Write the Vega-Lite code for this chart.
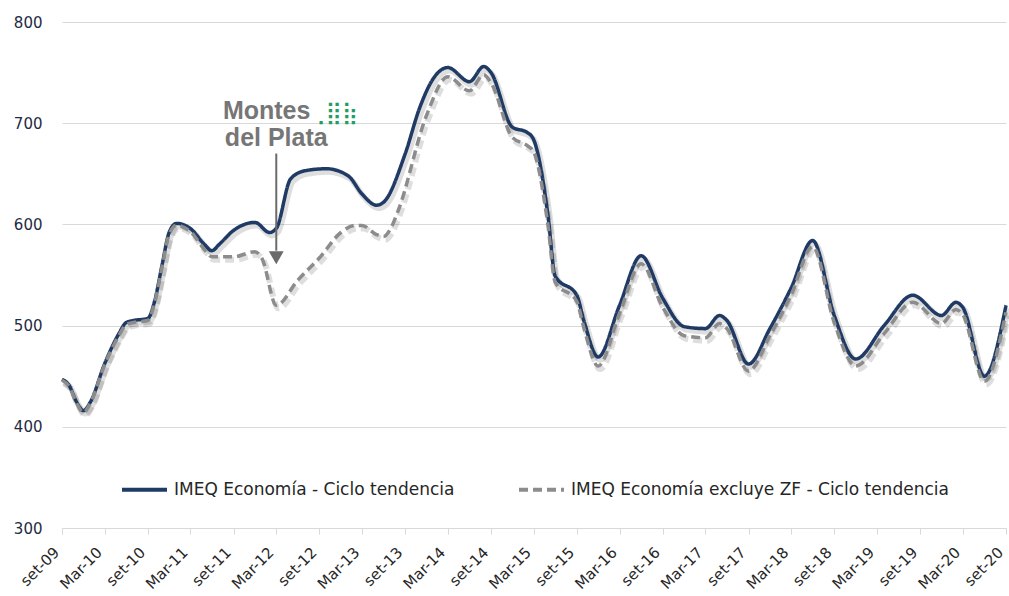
{
  "$schema": "https://vega.github.io/schema/vega-lite/v6.json",
  "width": 944,
  "height": 506,
  "autosize": {"type": "none"},
  "padding": {"left": 62, "top": 22, "right": 3, "bottom": 68},
  "background": "white",
  "config": {"view": {"stroke": null}, "font": "DejaVu Sans"},
  "datasets": {
    "series": [
      {"date": "2009/09/01", "serie": "IMEQ Economía - Ciclo tendencia", "value": 447},
      {"date": "2009/10/01", "serie": "IMEQ Economía - Ciclo tendencia", "value": 441},
      {"date": "2009/11/01", "serie": "IMEQ Economía - Ciclo tendencia", "value": 425},
      {"date": "2009/12/01", "serie": "IMEQ Economía - Ciclo tendencia", "value": 416},
      {"date": "2010/01/01", "serie": "IMEQ Economía - Ciclo tendencia", "value": 425},
      {"date": "2010/03/01", "serie": "IMEQ Economía - Ciclo tendencia", "value": 462},
      {"date": "2010/05/01", "serie": "IMEQ Economía - Ciclo tendencia", "value": 492},
      {"date": "2010/06/01", "serie": "IMEQ Economía - Ciclo tendencia", "value": 503},
      {"date": "2010/07/01", "serie": "IMEQ Economía - Ciclo tendencia", "value": 505},
      {"date": "2010/09/01", "serie": "IMEQ Economía - Ciclo tendencia", "value": 507},
      {"date": "2010/10/01", "serie": "IMEQ Economía - Ciclo tendencia", "value": 525},
      {"date": "2010/11/01", "serie": "IMEQ Economía - Ciclo tendencia", "value": 560},
      {"date": "2010/12/01", "serie": "IMEQ Economía - Ciclo tendencia", "value": 592},
      {"date": "2011/01/01", "serie": "IMEQ Economía - Ciclo tendencia", "value": 601},
      {"date": "2011/03/01", "serie": "IMEQ Economía - Ciclo tendencia", "value": 596},
      {"date": "2011/05/01", "serie": "IMEQ Economía - Ciclo tendencia", "value": 580},
      {"date": "2011/06/01", "serie": "IMEQ Economía - Ciclo tendencia", "value": 574},
      {"date": "2011/07/01", "serie": "IMEQ Economía - Ciclo tendencia", "value": 580},
      {"date": "2011/09/01", "serie": "IMEQ Economía - Ciclo tendencia", "value": 594},
      {"date": "2011/12/01", "serie": "IMEQ Economía - Ciclo tendencia", "value": 602},
      {"date": "2012/02/01", "serie": "IMEQ Economía - Ciclo tendencia", "value": 592},
      {"date": "2012/03/01", "serie": "IMEQ Economía - Ciclo tendencia", "value": 596},
      {"date": "2012/05/01", "serie": "IMEQ Economía - Ciclo tendencia", "value": 645},
      {"date": "2012/07/01", "serie": "IMEQ Economía - Ciclo tendencia", "value": 653},
      {"date": "2012/10/01", "serie": "IMEQ Economía - Ciclo tendencia", "value": 655},
      {"date": "2013/01/01", "serie": "IMEQ Economía - Ciclo tendencia", "value": 648},
      {"date": "2013/03/01", "serie": "IMEQ Economía - Ciclo tendencia", "value": 630},
      {"date": "2013/05/01", "serie": "IMEQ Economía - Ciclo tendencia", "value": 619},
      {"date": "2013/06/01", "serie": "IMEQ Economía - Ciclo tendencia", "value": 622},
      {"date": "2013/09/01", "serie": "IMEQ Economía - Ciclo tendencia", "value": 670},
      {"date": "2013/11/01", "serie": "IMEQ Economía - Ciclo tendencia", "value": 715},
      {"date": "2014/01/01", "serie": "IMEQ Economía - Ciclo tendencia", "value": 745},
      {"date": "2014/03/01", "serie": "IMEQ Economía - Ciclo tendencia", "value": 755},
      {"date": "2014/06/01", "serie": "IMEQ Economía - Ciclo tendencia", "value": 741},
      {"date": "2014/08/01", "serie": "IMEQ Economía - Ciclo tendencia", "value": 756},
      {"date": "2014/09/01", "serie": "IMEQ Economía - Ciclo tendencia", "value": 750},
      {"date": "2014/12/01", "serie": "IMEQ Economía - Ciclo tendencia", "value": 696},
      {"date": "2015/02/01", "serie": "IMEQ Economía - Ciclo tendencia", "value": 691},
      {"date": "2015/03/01", "serie": "IMEQ Economía - Ciclo tendencia", "value": 684},
      {"date": "2015/05/01", "serie": "IMEQ Economía - Ciclo tendencia", "value": 610},
      {"date": "2015/06/01", "serie": "IMEQ Economía - Ciclo tendencia", "value": 549},
      {"date": "2015/09/01", "serie": "IMEQ Economía - Ciclo tendencia", "value": 530},
      {"date": "2015/10/01", "serie": "IMEQ Economía - Ciclo tendencia", "value": 505},
      {"date": "2015/12/01", "serie": "IMEQ Economía - Ciclo tendencia", "value": 469},
      {"date": "2016/03/01", "serie": "IMEQ Economía - Ciclo tendencia", "value": 520},
      {"date": "2016/06/01", "serie": "IMEQ Economía - Ciclo tendencia", "value": 569},
      {"date": "2016/09/01", "serie": "IMEQ Economía - Ciclo tendencia", "value": 527},
      {"date": "2016/12/01", "serie": "IMEQ Economía - Ciclo tendencia", "value": 499},
      {"date": "2017/03/01", "serie": "IMEQ Economía - Ciclo tendencia", "value": 497},
      {"date": "2017/05/01", "serie": "IMEQ Economía - Ciclo tendencia", "value": 510},
      {"date": "2017/06/01", "serie": "IMEQ Economía - Ciclo tendencia", "value": 505},
      {"date": "2017/09/01", "serie": "IMEQ Economía - Ciclo tendencia", "value": 462},
      {"date": "2017/12/01", "serie": "IMEQ Economía - Ciclo tendencia", "value": 497},
      {"date": "2018/03/01", "serie": "IMEQ Economía - Ciclo tendencia", "value": 537},
      {"date": "2018/06/01", "serie": "IMEQ Economía - Ciclo tendencia", "value": 584},
      {"date": "2018/09/01", "serie": "IMEQ Economía - Ciclo tendencia", "value": 510},
      {"date": "2018/12/01", "serie": "IMEQ Economía - Ciclo tendencia", "value": 467},
      {"date": "2019/04/01", "serie": "IMEQ Economía - Ciclo tendencia", "value": 500},
      {"date": "2019/08/01", "serie": "IMEQ Economía - Ciclo tendencia", "value": 530},
      {"date": "2019/12/01", "serie": "IMEQ Economía - Ciclo tendencia", "value": 510},
      {"date": "2020/02/01", "serie": "IMEQ Economía - Ciclo tendencia", "value": 523},
      {"date": "2020/03/01", "serie": "IMEQ Economía - Ciclo tendencia", "value": 518},
      {"date": "2020/06/01", "serie": "IMEQ Economía - Ciclo tendencia", "value": 450},
      {"date": "2020/09/01", "serie": "IMEQ Economía - Ciclo tendencia", "value": 520},
      {"date": "2009/09/01", "serie": "IMEQ Economía excluye ZF - Ciclo tendencia", "value": 446},
      {"date": "2009/10/01", "serie": "IMEQ Economía excluye ZF - Ciclo tendencia", "value": 440},
      {"date": "2009/11/01", "serie": "IMEQ Economía excluye ZF - Ciclo tendencia", "value": 424},
      {"date": "2009/12/01", "serie": "IMEQ Economía excluye ZF - Ciclo tendencia", "value": 414},
      {"date": "2010/01/01", "serie": "IMEQ Economía excluye ZF - Ciclo tendencia", "value": 424},
      {"date": "2010/03/01", "serie": "IMEQ Economía excluye ZF - Ciclo tendencia", "value": 461},
      {"date": "2010/05/01", "serie": "IMEQ Economía excluye ZF - Ciclo tendencia", "value": 490},
      {"date": "2010/06/01", "serie": "IMEQ Economía excluye ZF - Ciclo tendencia", "value": 501},
      {"date": "2010/07/01", "serie": "IMEQ Economía excluye ZF - Ciclo tendencia", "value": 503},
      {"date": "2010/09/01", "serie": "IMEQ Economía excluye ZF - Ciclo tendencia", "value": 505},
      {"date": "2010/10/01", "serie": "IMEQ Economía excluye ZF - Ciclo tendencia", "value": 523},
      {"date": "2010/11/01", "serie": "IMEQ Economía excluye ZF - Ciclo tendencia", "value": 558},
      {"date": "2010/12/01", "serie": "IMEQ Economía excluye ZF - Ciclo tendencia", "value": 590},
      {"date": "2011/01/01", "serie": "IMEQ Economía excluye ZF - Ciclo tendencia", "value": 599},
      {"date": "2011/03/01", "serie": "IMEQ Economía excluye ZF - Ciclo tendencia", "value": 593},
      {"date": "2011/05/01", "serie": "IMEQ Economía excluye ZF - Ciclo tendencia", "value": 575},
      {"date": "2011/06/01", "serie": "IMEQ Economía excluye ZF - Ciclo tendencia", "value": 568},
      {"date": "2011/09/01", "serie": "IMEQ Economía excluye ZF - Ciclo tendencia", "value": 568},
      {"date": "2011/12/01", "serie": "IMEQ Economía excluye ZF - Ciclo tendencia", "value": 573},
      {"date": "2012/01/01", "serie": "IMEQ Economía excluye ZF - Ciclo tendencia", "value": 566},
      {"date": "2012/03/01", "serie": "IMEQ Economía excluye ZF - Ciclo tendencia", "value": 520},
      {"date": "2012/06/01", "serie": "IMEQ Economía excluye ZF - Ciclo tendencia", "value": 545},
      {"date": "2012/09/01", "serie": "IMEQ Economía excluye ZF - Ciclo tendencia", "value": 567},
      {"date": "2012/12/01", "serie": "IMEQ Economía excluye ZF - Ciclo tendencia", "value": 592},
      {"date": "2013/02/01", "serie": "IMEQ Economía excluye ZF - Ciclo tendencia", "value": 599},
      {"date": "2013/03/01", "serie": "IMEQ Economía excluye ZF - Ciclo tendencia", "value": 599},
      {"date": "2013/05/01", "serie": "IMEQ Economía excluye ZF - Ciclo tendencia", "value": 590},
      {"date": "2013/06/01", "serie": "IMEQ Economía excluye ZF - Ciclo tendencia", "value": 588},
      {"date": "2013/07/01", "serie": "IMEQ Economía excluye ZF - Ciclo tendencia", "value": 596},
      {"date": "2013/08/01", "serie": "IMEQ Economía excluye ZF - Ciclo tendencia", "value": 613},
      {"date": "2013/12/01", "serie": "IMEQ Economía excluye ZF - Ciclo tendencia", "value": 708},
      {"date": "2014/03/01", "serie": "IMEQ Economía excluye ZF - Ciclo tendencia", "value": 746},
      {"date": "2014/06/01", "serie": "IMEQ Economía excluye ZF - Ciclo tendencia", "value": 732},
      {"date": "2014/08/01", "serie": "IMEQ Economía excluye ZF - Ciclo tendencia", "value": 748},
      {"date": "2014/09/01", "serie": "IMEQ Economía excluye ZF - Ciclo tendencia", "value": 740},
      {"date": "2014/12/01", "serie": "IMEQ Economía excluye ZF - Ciclo tendencia", "value": 686},
      {"date": "2015/02/01", "serie": "IMEQ Economía excluye ZF - Ciclo tendencia", "value": 678},
      {"date": "2015/03/01", "serie": "IMEQ Economía excluye ZF - Ciclo tendencia", "value": 672},
      {"date": "2015/05/01", "serie": "IMEQ Economía excluye ZF - Ciclo tendencia", "value": 600},
      {"date": "2015/06/01", "serie": "IMEQ Economía excluye ZF - Ciclo tendencia", "value": 543},
      {"date": "2015/09/01", "serie": "IMEQ Economía excluye ZF - Ciclo tendencia", "value": 524},
      {"date": "2015/10/01", "serie": "IMEQ Economía excluye ZF - Ciclo tendencia", "value": 498},
      {"date": "2015/12/01", "serie": "IMEQ Economía excluye ZF - Ciclo tendencia", "value": 460},
      {"date": "2016/03/01", "serie": "IMEQ Economía excluye ZF - Ciclo tendencia", "value": 512},
      {"date": "2016/06/01", "serie": "IMEQ Economía excluye ZF - Ciclo tendencia", "value": 561},
      {"date": "2016/09/01", "serie": "IMEQ Economía excluye ZF - Ciclo tendencia", "value": 518},
      {"date": "2016/12/01", "serie": "IMEQ Economía excluye ZF - Ciclo tendencia", "value": 490},
      {"date": "2017/03/01", "serie": "IMEQ Economía excluye ZF - Ciclo tendencia", "value": 488},
      {"date": "2017/05/01", "serie": "IMEQ Economía excluye ZF - Ciclo tendencia", "value": 502},
      {"date": "2017/06/01", "serie": "IMEQ Economía excluye ZF - Ciclo tendencia", "value": 497},
      {"date": "2017/09/01", "serie": "IMEQ Economía excluye ZF - Ciclo tendencia", "value": 455},
      {"date": "2017/12/01", "serie": "IMEQ Economía excluye ZF - Ciclo tendencia", "value": 490},
      {"date": "2018/03/01", "serie": "IMEQ Economía excluye ZF - Ciclo tendencia", "value": 530},
      {"date": "2018/06/01", "serie": "IMEQ Economía excluye ZF - Ciclo tendencia", "value": 578},
      {"date": "2018/09/01", "serie": "IMEQ Economía excluye ZF - Ciclo tendencia", "value": 503},
      {"date": "2018/12/01", "serie": "IMEQ Economía excluye ZF - Ciclo tendencia", "value": 460},
      {"date": "2019/04/01", "serie": "IMEQ Economía excluye ZF - Ciclo tendencia", "value": 492},
      {"date": "2019/08/01", "serie": "IMEQ Economía excluye ZF - Ciclo tendencia", "value": 523},
      {"date": "2019/12/01", "serie": "IMEQ Economía excluye ZF - Ciclo tendencia", "value": 502},
      {"date": "2020/02/01", "serie": "IMEQ Economía excluye ZF - Ciclo tendencia", "value": 516},
      {"date": "2020/03/01", "serie": "IMEQ Economía excluye ZF - Ciclo tendencia", "value": 511},
      {"date": "2020/06/01", "serie": "IMEQ Economía excluye ZF - Ciclo tendencia", "value": 445},
      {"date": "2020/09/01", "serie": "IMEQ Economía excluye ZF - Ciclo tendencia", "value": 513}
    ],
    "note": [{"label": "Montes del Plata"}]
  },
  "layer": [
    {
      "data": {"name": "series"},
      "transform": [{"filter": "datum.serie == 'IMEQ Economía - Ciclo tendencia'"}],
      "mark": {"type": "line", "interpolate": "monotone", "strokeWidth": 6, "color": "#000000", "opacity": 0.13, "xOffset": 2, "yOffset": 3},
      "encoding": {
        "x": {"field": "date", "type": "temporal"},
        "y": {"field": "value", "type": "quantitative"}
      }
    },
    {
      "data": {"name": "series"},
      "transform": [{"filter": "datum.serie != 'IMEQ Economía - Ciclo tendencia'"}],
      "mark": {"type": "line", "interpolate": "monotone", "strokeWidth": 6, "color": "#000000", "opacity": 0.13, "xOffset": 2, "yOffset": 3, "strokeDash": [9, 5]},
      "encoding": {
        "x": {"field": "date", "type": "temporal"},
        "y": {"field": "value", "type": "quantitative"}
      }
    },
    {
      "data": {"name": "series"},
      "mark": {"type": "line", "interpolate": "monotone", "strokeWidth": 3.5},
      "encoding": {
        "x": {
          "field": "date",
          "type": "temporal",
          "scale": {"domain": [{"year": 2009, "month": 9, "date": 1}, {"year": 2020, "month": 9, "date": 1}]},
          "axis": {
            "title": null,
            "values": [
              {"year": 2009, "month": 9, "date": 1}, {"year": 2010, "month": 3, "date": 1},
              {"year": 2010, "month": 9, "date": 1}, {"year": 2011, "month": 3, "date": 1},
              {"year": 2011, "month": 9, "date": 1}, {"year": 2012, "month": 3, "date": 1},
              {"year": 2012, "month": 9, "date": 1}, {"year": 2013, "month": 3, "date": 1},
              {"year": 2013, "month": 9, "date": 1}, {"year": 2014, "month": 3, "date": 1},
              {"year": 2014, "month": 9, "date": 1}, {"year": 2015, "month": 3, "date": 1},
              {"year": 2015, "month": 9, "date": 1}, {"year": 2016, "month": 3, "date": 1},
              {"year": 2016, "month": 9, "date": 1}, {"year": 2017, "month": 3, "date": 1},
              {"year": 2017, "month": 9, "date": 1}, {"year": 2018, "month": 3, "date": 1},
              {"year": 2018, "month": 9, "date": 1}, {"year": 2019, "month": 3, "date": 1},
              {"year": 2019, "month": 9, "date": 1}, {"year": 2020, "month": 3, "date": 1},
              {"year": 2020, "month": 9, "date": 1}
            ],
            "labelExpr": "(month(datum.value) == 2 ? 'Mar-' : 'set-') + timeFormat(datum.value, '%y')",
            "labelAngle": -45,
            "labelAlign": "right",
            "labelBaseline": "bottom",
            "labelFontSize": 15,
            "labelColor": "#262626",
            "labelPadding": 21,
            "labelOverlap": false,
            "labelFlush": false,
            "grid": false,
            "tickSize": 6,
            "tickColor": "#d9d9d9",
            "domainColor": "#d9d9d9",
            "domainWidth": 1
          }
        },
        "y": {
          "field": "value",
          "type": "quantitative",
          "scale": {"domain": [300, 800], "nice": false, "zero": false},
          "axis": {
            "title": null,
            "values": [300, 400, 500, 600, 700, 800],
            "grid": true,
            "gridColor": "#d9d9d9",
            "domain": false,
            "ticks": false,
            "labelFontSize": 15,
            "labelColor": "#1f2a44",
            "labelPadding": 20
          }
        },
        "color": {
          "field": "serie",
          "type": "nominal",
          "scale": {"domain": ["IMEQ Economía - Ciclo tendencia", "IMEQ Economía excluye ZF - Ciclo tendencia"], "range": ["#1f3a64", "#8c8c8c"]},
          "legend": {
            "title": null,
            "orient": "none",
            "direction": "horizontal",
            "legendX": 58,
            "legendY": 443,
            "symbolType": "stroke",
            "symbolSize": 2025,
            "symbolStrokeWidth": 4,
            "labelFont": "DejaVu Sans",
            "labelFontSize": 17,
            "labelColor": "#262626",
            "labelOffset": 5,
            "columnPadding": 56,
            "labelLimit": 500
          }
        },
        "strokeDash": {
          "field": "serie",
          "type": "nominal",
          "scale": {"domain": ["IMEQ Economía - Ciclo tendencia", "IMEQ Economía excluye ZF - Ciclo tendencia"], "range": [[1, 0], [9, 5]]},
          "legend": {
            "title": null,
            "orient": "none",
            "direction": "horizontal",
            "legendX": 58,
            "legendY": 443,
            "symbolType": "stroke",
            "symbolSize": 2025,
            "symbolStrokeWidth": 4,
            "labelFont": "DejaVu Sans",
            "labelFontSize": 17,
            "labelColor": "#262626",
            "labelOffset": 5,
            "columnPadding": 56,
            "labelLimit": 500
          }
        }
      }
    },
    {
      "data": {"name": "note"},
      "mark": {"type": "text", "text": "Montes", "font": "Liberation Sans", "fontWeight": "bold", "fontSize": 25, "color": "#767676", "align": "center", "baseline": "middle"},
      "encoding": {"x": {"datum": {"year": 2012, "month": 1, "date": 20}, "type": "temporal"}, "y": {"datum": 712, "type": "quantitative"}}
    },
    {
      "data": {"name": "note"},
      "mark": {"type": "text", "text": "del Plata", "font": "Liberation Sans", "fontWeight": "bold", "fontSize": 25, "color": "#767676", "align": "center", "baseline": "middle"},
      "encoding": {"x": {"datum": {"year": 2012, "month": 3, "date": 1}, "type": "temporal"}, "y": {"datum": 685, "type": "quantitative"}}
    },
    {
      "data": {"name": "note"},
      "mark": {"type": "text", "text": "⢀⣿⣷", "font": "DejaVu Sans", "fontSize": 22, "color": "#1e9e62", "align": "center", "baseline": "middle"},
      "encoding": {"x": {"datum": {"year": 2012, "month": 11, "date": 1}, "type": "temporal"}, "y": {"datum": 710, "type": "quantitative"}}
    },
    {
      "data": {"name": "note"},
      "mark": {"type": "rule", "color": "#6b6b6b", "strokeWidth": 2},
      "encoding": {"x": {"datum": {"year": 2012, "month": 3, "date": 1}, "type": "temporal"}, "y": {"datum": 670, "type": "quantitative"}, "y2": {"datum": 574}}
    },
    {
      "data": {"name": "note"},
      "mark": {"type": "point", "shape": "triangle-down", "filled": true, "size": 220, "color": "#6b6b6b", "opacity": 1},
      "encoding": {"x": {"datum": {"year": 2012, "month": 3, "date": 1}, "type": "temporal"}, "y": {"datum": 567, "type": "quantitative"}}
    }
  ]
}
